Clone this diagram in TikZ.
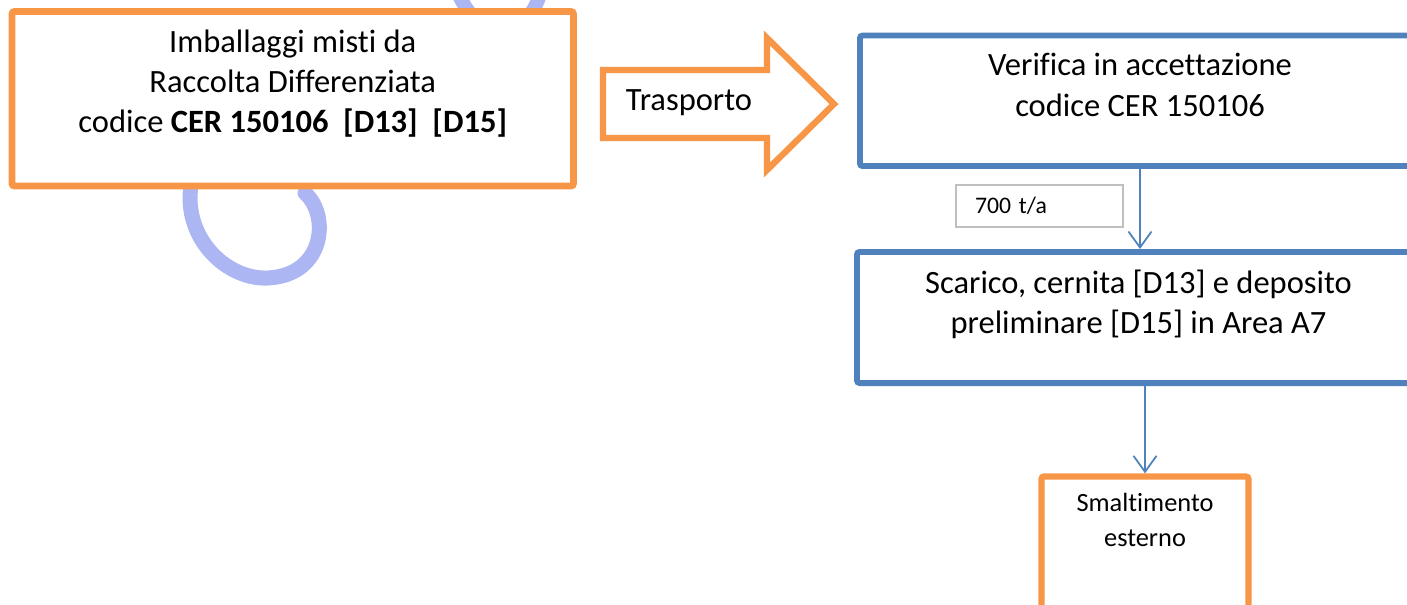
\documentclass[tikz,border=0pt]{standalone}
\usepackage{fontspec}
\setmainfont{Carlito}[Ligatures=NoCommon]
\usetikzlibrary{positioning,arrows.meta}
\definecolor{wasteorange}{RGB}{247,150,70}
\definecolor{plantblue}{RGB}{79,129,189}
\definecolor{rategray}{RGB}{191,191,191}
\definecolor{logoblue}{RGB}{172,182,242}

\begin{document}
\begin{tikzpicture}[
    stage/.style={rectangle, fill=white, inner sep=0pt, rounded corners=1.5pt},
    input/.style={stage, draw=wasteorange, line width=3.9pt},
    process/.style={stage, draw=plantblue, line width=3.4pt},
    stagetext/.style={align=center, inner sep=0pt, font=\fontsize{18.5}{23}\selectfont},
    rate/.style={rectangle, draw=rategray, line width=1.1pt, minimum height=0.84cm, text width=2.58cm, inner xsep=0.38cm, inner ysep=0pt, align=left, font=\fontsize{13.5}{16}\selectfont},
    flow/.style={-{Straight Barb[length=3.2mm, width=4.6mm]}, draw=plantblue, line width=1pt}
]
\useasboundingbox (0,0) rectangle (28.14,-12.08);

% faint logo behind the first box
\draw[logoblue, line width=0.3cm, line cap=round] (3.84,-3.6) .. controls (3.6,-4.7) and (4.5,-5.6) .. (5.36,-5.56) .. controls (6.5,-5.5) and (6.6,-4.3) .. (6.1,-3.86);
\draw[logoblue, line width=0.28cm] (9.1,0.3) .. controls (9.5,-0.9) and (10.6,-0.9) .. (10.85,0.3);

% boxes
\node[input, minimum width=11.23cm, minimum height=3.49cm] (raccolta) at (5.855,-1.975) {};
\node[process, minimum width=11.2cm, minimum height=2.61cm] (verifica) at (22.8,-2.015) {};
\node[process, minimum width=11.26cm, minimum height=2.62cm] (scarico) at (22.77,-6.35) {};
\node[input, line width=3.6pt, minimum width=4.14cm, minimum height=2.9cm] (smaltimento) at (22.9,-10.98) {};
\node[rate] (quantita) at (20.79,-4.12) {700 t/a};

% transport arrow
\draw[wasteorange, line width=3.6pt, fill=white] (12.06,-1.4) -- (15.34,-1.4) -- (15.34,-0.76) -- (16.68,-2.08) -- (15.34,-3.4) -- (15.34,-2.76) -- (12.06,-2.76) -- cycle;
\node[anchor=base, inner sep=0pt, font=\fontsize{18.5}{23}\selectfont] (trasporto) at (13.78,-2.21) {Trasporto};

% texts
\node[stagetext, below=0.42cm of raccolta.north] (raccolta-txt) {Imballaggi misti da\\Raccolta Differenziata\\codice \textbf{CER 150106\ \ [D13]\ \ [D15]}};
\node[stagetext, below=0.41cm of verifica.north] (verifica-txt) {Verifica in accettazione\\codice CER 150106};
\node[stagetext, below=0.41cm of scarico.north] (scarico-txt) {Scarico, cernita [D13] e deposito\\preliminare [D15] in Area A7};
\node[stagetext, font=\fontsize{15}{20}\selectfont, below=0.38cm of smaltimento.north] (smaltimento-txt) {Smaltimento\\esterno};

% flow
\draw[flow] (verifica.south) -- (verifica.south |- scarico.north);
\draw[flow] (scarico.south -| smaltimento.north) -- (smaltimento.north);

\end{tikzpicture}
\end{document}
